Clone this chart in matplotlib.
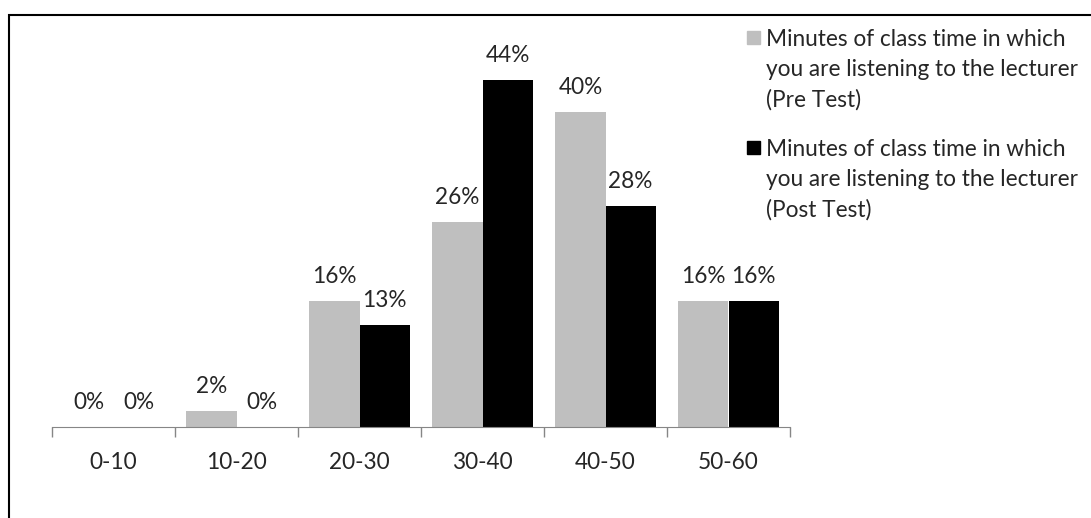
import matplotlib.pyplot as plt
import matplotlib.patches as mpatches
import numpy as np

plt.rcParams['font.family'] = ['Lato', 'DejaVu Sans']

categories = ['0-10', '10-20', '20-30', '30-40', '40-50', '50-60']
pre_test = [0, 2, 16, 26, 40, 16]
post_test = [0, 0, 13, 44, 28, 16]
series_lines = [
    ['Minutes of class time in which', 'you are listening to the lecturer', '(Pre Test)'],
    ['Minutes of class time in which', 'you are listening to the lecturer', '(Post Test)'],
]
colors = ['#bfbfbf', '#000000']
text_color = '#262626'
FS = 16.3

W, H = 1091, 518
fig = plt.figure(figsize=(W / 100, H / 100), dpi=100)
ax = fig.add_axes([52 / W, 91 / H, 738 / W, 394 / H])

x = np.arange(len(categories))
width = 0.4075
bars_pre = ax.bar(x - width / 2, pre_test, width, color=colors[0])
bars_post = ax.bar(x + width / 2, post_test, width, color=colors[1])

for bars, vals in ((bars_pre, pre_test), (bars_post, post_test)):
    for b, v in zip(bars, vals):
        ax.annotate(f'{v}%', (b.get_x() + b.get_width() / 2, v),
                    xytext=(0, 10), textcoords='offset points',
                    ha='center', va='bottom', fontsize=FS, color=text_color)

ax.set_xlim(-0.5, len(categories) - 0.5)
ax.set_ylim(0, 50)
ax.set_yticks([])
ax.set_xticks(np.arange(len(categories) + 1) - 0.5)
ax.set_xticklabels([])
ax.set_xticks(x, minor=True)
ax.set_xticklabels(categories, minor=True, fontsize=FS, color=text_color)
ax.tick_params(axis='x', which='major', length=7, color='#868686', width=1)
ax.tick_params(axis='x', which='minor', length=0, pad=18)
for s in ('top', 'right', 'left'):
    ax.spines[s].set_visible(False)
ax.spines['bottom'].set_color('#868686')

# legend drawn by hand so the swatch sits on the first text line
first_baselines = [46, 156]
line_step = 30.5
for lines, c, base in zip(series_lines, colors, first_baselines):
    fig.add_artist(mpatches.Rectangle((747 / W, 1 - (base - 2) / H), 13 / W, 13 / H,
                                      transform=fig.transFigure, color=c))
    for i, line in enumerate(lines):
        fig.text(766 / W, 1 - (base + i * line_step) / H, line, fontsize=FS,
                 color=text_color, ha='left', va='baseline')

# outer chart frame (only left and top edges fall inside the image)
fig.add_artist(mpatches.Rectangle((9 / W, -0.1), 1.2, 1 - 15 / H + 0.1,
                                  transform=fig.transFigure, fill=False,
                                  edgecolor='black', linewidth=1.5))

fig.savefig('out.png', dpi=100)
